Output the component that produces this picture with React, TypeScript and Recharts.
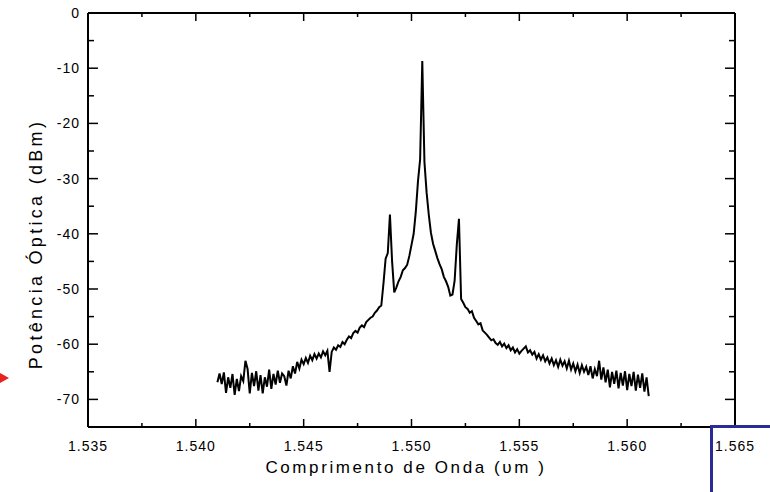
import React from "react";
import { LineChart, Line, XAxis, YAxis } from "recharts";

// espectro óptico: 1.5410 a 1.5610 um, passo de 0.0001 um
const WL_START = 1.541;
const WL_STEP = 0.0001;
const POWER = [
  -66.9, -65.3, -67.2, -65.1, -68.8, -66.0, -67.9, -65.4, -69.2, -66.3,
  -68.5, -65.8, -66.7, -63.0, -64.5, -68.9, -65.2, -67.6, -64.9, -68.4,
  -65.6, -68.9, -66.0, -67.7, -64.6, -68.1, -65.4, -67.3, -64.8, -67.0,
  -65.3, -65.8, -67.5, -64.8, -66.2, -64.0, -65.3, -63.2, -64.4, -62.8,
  -63.6, -62.5, -63.4, -62.1, -62.9, -61.8, -62.6, -61.7, -62.4, -61.3,
  -62.0, -61.2, -65.0, -61.4, -60.6, -61.0, -60.2, -60.5, -59.6, -60.0,
  -59.2, -58.6, -58.9, -58.0, -57.6, -57.9, -57.0, -56.6, -56.9, -56.0,
  -55.6, -55.2, -55.0, -54.3, -53.9, -53.3, -53.0, -49.0, -44.5, -43.5,
  -36.5, -45.0, -50.6, -49.7, -48.6, -47.8, -46.6, -46.2, -45.6, -44.0,
  -42.0, -40.0, -36.0, -30.5, -26.5, -8.7, -27.0, -32.5, -36.5, -39.8,
  -41.8, -43.1, -44.4, -45.5, -46.4, -47.8, -48.6, -49.6, -51.2, -51.0,
  -48.5, -42.0, -37.3, -51.8, -52.5, -53.3, -53.6, -54.3, -54.0, -55.2,
  -55.8, -56.4, -56.2, -57.5, -57.9, -58.3, -58.8, -59.3, -59.1, -59.8,
  -60.1, -59.6, -60.4, -59.9, -60.7, -60.2, -61.1, -60.6, -61.5, -60.9,
  -61.7, -61.2, -60.8, -60.4, -61.5, -61.1, -61.9, -61.4, -62.6, -61.8,
  -62.8, -62.0, -63.1, -62.4, -63.5, -62.6, -63.8, -62.9, -64.1, -62.8,
  -63.9, -63.1, -64.4, -63.0, -64.6, -63.5, -64.9, -63.7, -65.2, -63.8,
  -65.0, -64.1, -65.6, -64.0, -66.2, -64.5, -65.8, -63.0, -66.4, -64.2,
  -66.9, -64.6, -67.8, -65.0, -67.2, -64.8, -68.0, -65.2, -67.5, -64.9,
  -68.3, -65.4, -67.6, -65.0, -68.4, -65.5, -67.9, -65.3, -68.6, -66.0,
  -69.4,
];

const X_TICKS = [1.535, 1.5375, 1.54, 1.5425, 1.545, 1.5475, 1.55, 1.5525, 1.555, 1.5575, 1.56, 1.5625, 1.565];
const X_LABELS = ["1.535", "1.540", "1.545", "1.550", "1.555", "1.560", "1.565"];
const Y_TICKS = [0, -5, -10, -15, -20, -25, -30, -35, -40, -45, -50, -55, -60, -65, -70];
const Y_LABELS = ["0", "-10", "-20", "-30", "-40", "-50", "-60", "-70"];

const data = POWER.map((p, i) => ({ wl: +(WL_START + i * WL_STEP).toFixed(4), p }));

const FONT = "'Liberation Sans', Arial, sans-serif";
const MARGIN = 10;

const xLabel = (v: number) => X_LABELS.find(l => Math.abs(parseFloat(l) - v) < 1e-6);
const yLabel = (v: number) => Y_LABELS.find(l => parseFloat(l) === v);

const BottomTick = (props: any) => {
  const { x, y, payload } = props;
  const lab = xLabel(payload.value);
  const ay = y - MARGIN;
  return (
    <g>
      <line x1={x} x2={x} y1={ay} y2={ay - (lab ? 8 : 4)} stroke="#000" strokeWidth={1.5} />
      {lab && (
        <text x={x} y={ay + 24} textAnchor="middle" fontSize={14} fontFamily={FONT} letterSpacing={1} fill="#000">
          {lab}
        </text>
      )}
    </g>
  );
};

const TopTick = (props: any) => {
  const { x, y, payload } = props;
  const lab = xLabel(payload.value);
  return <line x1={x} x2={x} y1={y} y2={y + (lab ? 8 : 4)} stroke="#000" strokeWidth={1.5} />;
};

const LeftTick = (props: any) => {
  const { x, y, payload } = props;
  const lab = yLabel(payload.value);
  const ax = x + MARGIN;
  return (
    <g>
      <line x1={ax} x2={ax + (lab ? 10 : 6)} y1={y} y2={y} stroke="#000" strokeWidth={1.5} />
      {lab && (
        <text x={ax - 8} y={y} dy="0.35em" textAnchor="end" fontSize={14} fontFamily={FONT} letterSpacing={1} fill="#000">
          {lab}
        </text>
      )}
    </g>
  );
};

const RightTick = (props: any) => {
  const { x, y, payload } = props;
  const lab = yLabel(payload.value);
  return <line x1={x} x2={x - (lab ? 10 : 6)} y1={y} y2={y} stroke="#000" strokeWidth={1.5} />;
};

// títulos dos eixos
const XTitle = () => (
  <text x={406} y={473} textAnchor="middle" fontSize={17} fontFamily={FONT} letterSpacing={2.6} fill="#000">
    Comprimento de Onda (υm )
  </text>
);

const YTitle = () => (
  <text x={42} y={244} transform="rotate(-90 42 244)" textAnchor="middle" fontSize={18} fontFamily={FONT} letterSpacing={3.3} fill="#000">
    Potência Óptica (dBm)
  </text>
);

export default function App() {
  return (
    <div style={{ position: "absolute", left: 0, top: 0, width: 770, height: 492, background: "#fff" }}>
      <LineChart width={770} height={492} data={data} margin={{ top: 12, right: 34, bottom: 35, left: 0 }}>
        <XAxis
          xAxisId="b" type="number" dataKey="wl" domain={[1.535, 1.565]} ticks={X_TICKS} interval={0}
          allowDataOverflow height={30} tickSize={0} tickMargin={MARGIN} tick={<BottomTick />}
          axisLine={{ stroke: "#000", strokeWidth: 2 }}
          label={<XTitle />}
        />
        <XAxis
          xAxisId="t" orientation="top" type="number" dataKey="wl" domain={[1.535, 1.565]} ticks={X_TICKS} interval={0}
          allowDataOverflow height={1} tickSize={0} tickMargin={0} tick={<TopTick />}
          axisLine={{ stroke: "#000", strokeWidth: 2 }}
        />
        <YAxis
          yAxisId="l" type="number" domain={[-75, 0]} ticks={Y_TICKS} interval={0} allowDataOverflow
          width={88} tickSize={0} tickMargin={MARGIN} tick={<LeftTick />}
          axisLine={{ stroke: "#000", strokeWidth: 2 }}
          label={<YTitle />}
        />
        <YAxis
          yAxisId="r" orientation="right" type="number" domain={[-75, 0]} ticks={Y_TICKS} interval={0} allowDataOverflow
          width={1} tickSize={0} tickMargin={0} tick={<RightTick />}
          axisLine={{ stroke: "#000", strokeWidth: 2 }}
        />
        <Line xAxisId="t" yAxisId="r" dataKey="p" stroke="none" dot={false} isAnimationActive={false} />
        <Line xAxisId="b" yAxisId="l" type="linear" dataKey="p" stroke="#000" strokeWidth={2} dot={false} isAnimationActive={false} />
      </LineChart>
      <svg width={770} height={492} style={{ position: "absolute", left: 0, top: 0, pointerEvents: "none" }}>
        <polygon points="0,373 9,378 0,383" fill="#e8221c" />
        <rect x={710} y={425} width={3} height={67} fill="#2b2b95" />
        <rect x={710} y={425} width={60} height={3} fill="#2b2b95" />
      </svg>
    </div>
  );
}
